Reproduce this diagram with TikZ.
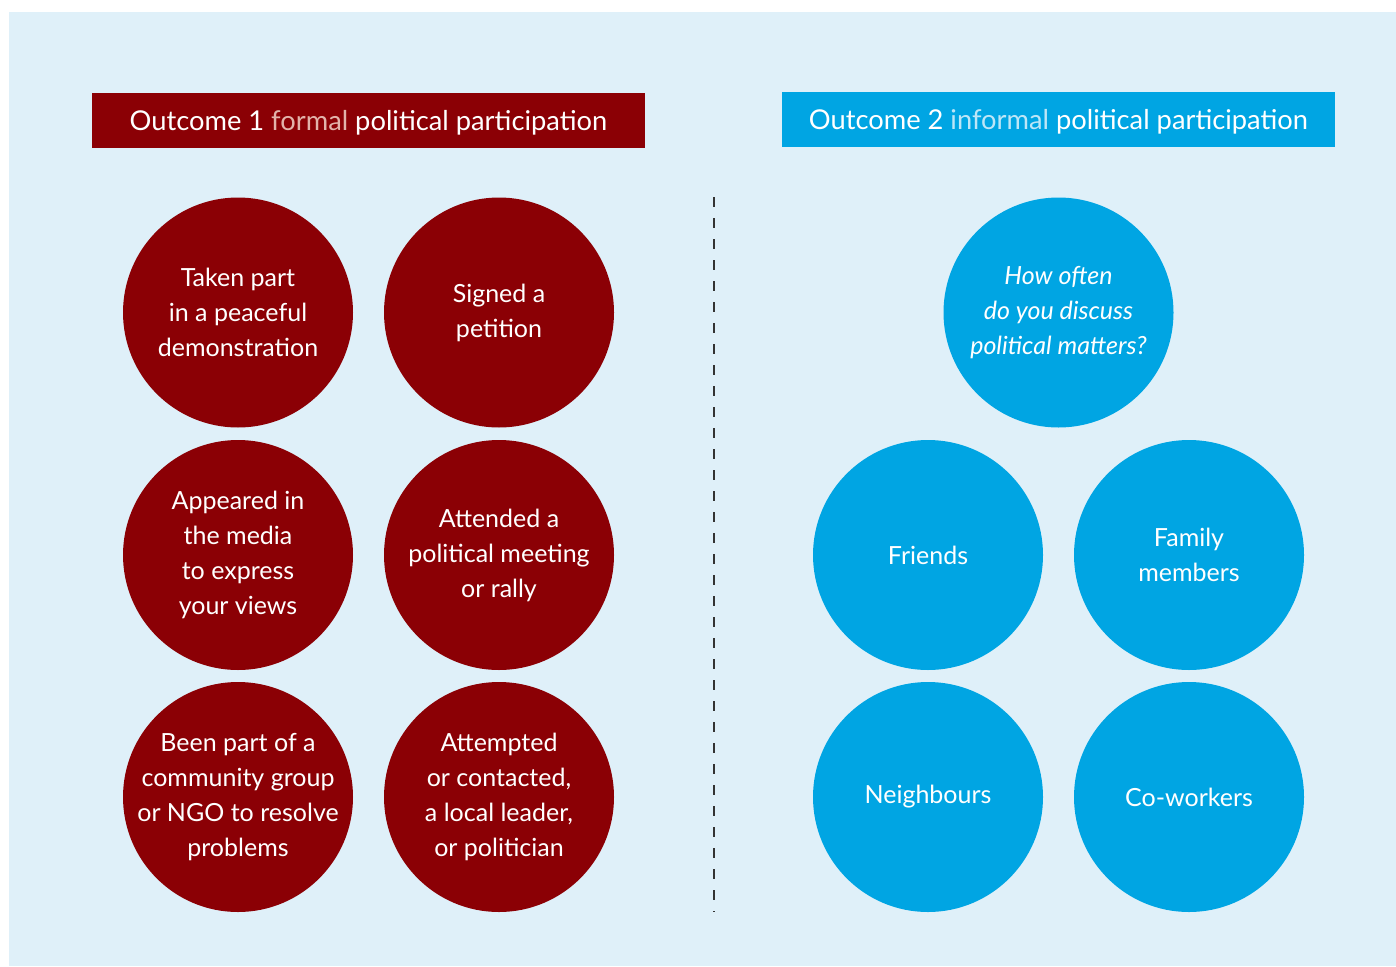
\documentclass[tikz,border=0pt]{standalone}
\usepackage{fontspec}
\setmainfont{Lato}
\definecolor{bgblue}{HTML}{DFF0F9}
\definecolor{darkred}{HTML}{8B0005}
\definecolor{skyblue}{HTML}{00A5E3}
\definecolor{pinkish}{HTML}{E2B3AB}
\definecolor{paleblue}{HTML}{BDE6F7}
\begin{document}
\begin{tikzpicture}[x=1pt,y=-1pt,
  circ/.style={circle, minimum size=230pt, inner sep=-15pt, text=white, align=center,
     font=\fontsize{25}{35}\selectfont},
  redcirc/.style={circ, fill=darkred},
  bluecirc/.style={circ, fill=skyblue},
  header/.style={minimum width=553pt, minimum height=55pt, inner sep=0pt, text=white,
     text height=24pt, text depth=4pt,
     font=\fontsize{27.3}{30}\selectfont}]
\useasboundingbox (0,0) rectangle (1396,966);
\fill[white] (0,0) rectangle (1396,966);
\fill[bgblue] (9,12) rectangle (1396,966);
\node[header, fill=darkred] (h1) at (368.5,120) {Outcome 1 \textcolor{pinkish}{formal} political participation};
\node[header, fill=skyblue] (h2) at (1058.5,119.5) {Outcome 2 \textcolor{paleblue}{informal} political participation};
\coordinate (dtop) at (714,197);
\coordinate (dbot) at (714,912);
\draw[line width=2pt, black!80, dash pattern=on 10pt off 11pt] (dtop) -- (dbot);
\node[redcirc] (c1) at (238,312.5) {Taken part\\in a peaceful\\demonstration};
\node[redcirc] (c2) at (499,312.5) {Signed a\\petition};
\node[redcirc] (c3) at (238,555) {Appeared in\\the media\\to express\\your views};
\node[redcirc] (c4) at (499,555) {Attended a\\political meeting\\or rally};
\node[redcirc] (c5) at (238,797) {Been part of a\\community group\\or NGO to resolve\\problems};
\node[redcirc] (c6) at (499,797) {Attempted\\or contacted,\\a local leader,\\or politician};
\node[bluecirc] (q) at (1058.5,312.5) {\itshape How often\\\itshape do you discuss\\\itshape political matters?};
\node[bluecirc] (b1) at (928,555) {Friends};
\node[bluecirc] (b2) at (1189,555) {Family\\members};
\node[bluecirc] (b3) at (928,797) {Neighbours};
\node[bluecirc] (b4) at (1189,797) {Co-workers};
\end{tikzpicture}
\end{document}
